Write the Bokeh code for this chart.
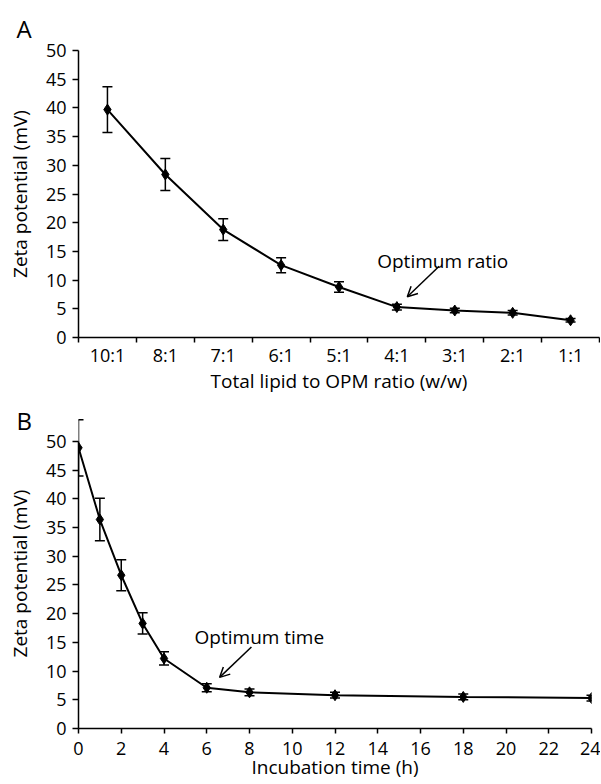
import numpy as np
from bokeh.plotting import figure
from bokeh.models import (FixedTicker, Whisker, TeeHead, Arrow, OpenHead, Label,
                          ColumnDataSource, Range1d, Title)
from bokeh.embed import file_html
from bokeh.resources import INLINE

# ---------------- data ----------------
ratio_labels = ["10:1", "8:1", "7:1", "6:1", "5:1", "4:1", "3:1", "2:1", "1:1"]
ratio_zeta = [39.7, 28.4, 18.8, 12.6, 8.8, 5.3, 4.7, 4.3, 3.0]
ratio_err = [4.0, 2.8, 1.9, 1.3, 0.9, 0.5, 0.4, 0.4, 0.3]

time_h = [0, 1, 2, 3, 4, 6, 8, 12, 18, 24]
time_zeta = [48.9, 36.4, 26.7, 18.3, 12.2, 7.1, 6.3, 5.8, 5.5, 5.3]
time_err = [4.9, 3.7, 2.7, 1.85, 1.15, 0.7, 0.6, 0.5, 0.5, 0.5]

y_ticks = [0, 5, 10, 15, 20, 25, 30, 35, 40, 45, 50]
time_ticks = [0, 2, 4, 6, 8, 10, 12, 14, 16, 18, 20, 22, 24]

FONT = "Open Sans"
TICK_SIZE = "18px"
TITLE_SIZE = "19px"


def style_axes(p, xstand, xtitle_stand):
    for ax in (p.xaxis[0], p.yaxis[0]):
        ax.axis_line_color = "black"
        ax.axis_line_width = 1.5
        ax.major_tick_line_color = "black"
        ax.major_tick_line_width = 1.5
        ax.minor_tick_line_color = None
        ax.major_label_text_font = FONT
        ax.major_label_text_font_size = TICK_SIZE
        ax.major_label_text_color = "black"
        ax.axis_label_text_font = FONT
        ax.axis_label_text_font_size = TITLE_SIZE
        ax.axis_label_text_font_style = "normal"
        ax.axis_label_text_color = "black"
        ax.major_tick_in = 0
    p.yaxis[0].major_tick_out = 6
    p.yaxis[0].major_label_standoff = 6
    p.yaxis[0].axis_label_standoff = 10
    p.xaxis[0].major_tick_out = 5
    p.xaxis[0].major_label_standoff = xstand
    p.xaxis[0].axis_label_standoff = xtitle_stand
    p.xgrid.visible = False
    p.ygrid.visible = False
    p.outline_line_color = None
    p.background_fill_color = "white"
    p.border_fill_color = "white"


def panel_title(text, standoff):
    return Title(text=text, align="left", offset=-62, standoff=standoff,
                 text_font=FONT, text_font_size="24px",
                 text_font_style="normal", text_color="black")


# ---------------- panel A ----------------
xa = [i + 0.5 for i in range(len(ratio_labels))]
src_a = ColumnDataSource(dict(
    x=xa, y=ratio_zeta,
    upper=list(np.array(ratio_zeta) + np.array(ratio_err)),
    lower=list(np.array(ratio_zeta) - np.array(ratio_err)),
))

pa = figure(width=600, height=396, x_range=Range1d(0, len(ratio_labels)),
            y_range=Range1d(0, 50), output_backend="svg", toolbar_location=None,
            min_border_left=78, min_border_right=1, min_border_top=50,
            min_border_bottom=58,
            x_axis_label="Total lipid to OPM ratio (w/w)",
            y_axis_label="Zeta potential (mV)")
style_axes(pa, 0, -2)
pa.xaxis[0].ticker = FixedTicker(ticks=xa, minor_ticks=list(range(len(ratio_labels) + 1)))
pa.xaxis[0].major_label_overrides = {x: lab for x, lab in zip(xa, ratio_labels)}
pa.xaxis[0].major_tick_out = 0
pa.xaxis[0].major_tick_line_color = None
pa.xaxis[0].minor_tick_line_color = "black"
pa.xaxis[0].minor_tick_line_width = 1.5
pa.xaxis[0].minor_tick_out = 5
pa.xaxis[0].minor_tick_in = 0
pa.xaxis[0].major_label_standoff = 0
pa.yaxis[0].ticker = FixedTicker(ticks=y_ticks)
pa.add_layout(panel_title("A", 11), "above")

pa.line("x", "y", source=src_a, line_color="black", line_width=2)
pa.add_layout(Whisker(source=src_a, base="x", upper="upper", lower="lower",
                      line_color="black", line_width=1.5,
                      upper_head=TeeHead(size=10, line_color="black", line_width=1.5),
                      lower_head=TeeHead(size=10, line_color="black", line_width=1.5)))
pa.scatter("x", "y", source=src_a, marker="diamond", size=11,
           fill_color="black", line_color="black")
pa.add_layout(Arrow(end=OpenHead(size=10, line_color="black", line_width=1.5),
                    x_start=6.23, y_start=12.4, x_end=5.68, y_end=7.1,
                    line_color="black", line_width=1.5))
pa.add_layout(Label(x=5.16, y=13.4, text="Optimum ratio", text_font=FONT,
                    text_font_size="19px", text_color="black",
                    text_align="left", text_baseline="alphabetic"))

# ---------------- panel B ----------------
src_b = ColumnDataSource(dict(
    x=time_h, y=time_zeta,
    upper=list(np.array(time_zeta) + np.array(time_err)),
    lower=list(np.array(time_zeta) - np.array(time_err)),
))

pb = figure(width=600, height=392, x_range=Range1d(0, 24),
            y_range=Range1d(0, 54), output_backend="svg", toolbar_location=None,
            min_border_left=78, min_border_right=9, min_border_top=22,
            min_border_bottom=60,
            x_axis_label="Incubation time (h)",
            y_axis_label="Zeta potential (mV)")
style_axes(pb, 8, -4)
pb.xaxis[0].ticker = FixedTicker(ticks=time_ticks)
pb.yaxis[0].ticker = FixedTicker(ticks=y_ticks)
pb.yaxis[0].bounds = (0, 50)
pb.add_layout(panel_title("B", -36), "above")

pb.line("x", "y", source=src_b, line_color="black", line_width=2)
pb.add_layout(Whisker(source=src_b, base="x", upper="upper", lower="lower",
                      line_color="black", line_width=1.5,
                      upper_head=TeeHead(size=10, line_color="black", line_width=1.5),
                      lower_head=TeeHead(size=10, line_color="black", line_width=1.5)))
pb.scatter("x", "y", source=src_b, marker="diamond", size=11,
           fill_color="black", line_color="black")
pb.add_layout(Arrow(end=OpenHead(size=10, line_color="black", line_width=1.5),
                    x_start=8.09, y_start=14.2, x_end=6.6, y_end=8.9,
                    line_color="black", line_width=1.5))
pb.add_layout(Label(x=5.43, y=16.0, text="Optimum time", text_font=FONT,
                    text_font_size="19px", text_color="black",
                    text_align="left", text_baseline="alphabetic"))

open("out.html", "w").write(file_html([pa, pb], INLINE))
